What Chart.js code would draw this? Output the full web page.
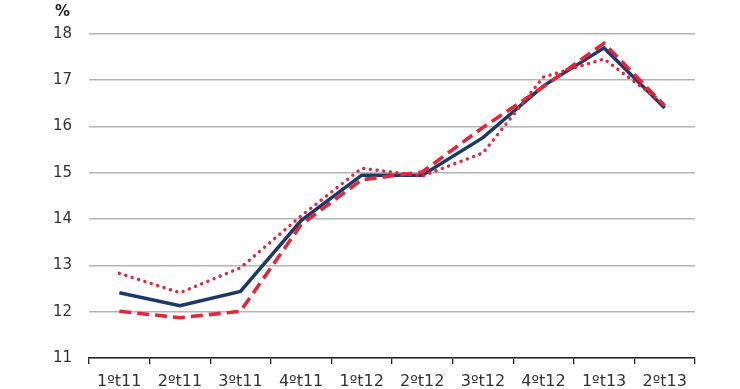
<!DOCTYPE html>
<html lang="pt">
<head>
  <meta charset="UTF-8">
  <title>Evolução trimestral</title>
  <script src="https://cdn.jsdelivr.net/npm/chart.js"></script>
  <style>
    html, body { margin: 0; padding: 0; background: #fff; }
    #wrap { width: 740px; height: 389px; position: relative; }
  </style>
</head>
<body>
  <div id="wrap"><canvas id="chart"></canvas></div>

  <script>
    // quarters on the x axis
    const quarters = ['1ºt11', '2ºt11', '3ºt11', '4ºt11', '1ºt12', '2ºt12', '3ºt12', '4ºt12', '1ºt13', '2ºt13'];

    // series (%)
    const solidSeries  = [12.41, 12.13, 12.44, 13.97, 14.95, 14.95, 15.76, 16.88, 17.70, 16.40];
    const dottedSeries = [12.83, 12.41, 12.95, 14.07, 15.10, 14.93, 15.43, 17.07, 17.46, 16.48];
    const dashedSeries = [12.01, 11.87, 12.01, 13.88, 14.85, 15.02, 15.98, 16.86, 17.80, 16.45];

    // y axis range
    const yMin = 11, yMax = 18, yStep = 1;

    const navy = '#1c3968';
    const red = '#e0283c';
    const fontFamily = '"DejaVu Sans", Verdana, sans-serif';

    // draws the "%" unit above the y axis
    const unitLabel = {
      id: 'unitLabel',
      afterDraw(chart) {
        const c = chart.ctx;
        c.save();
        c.font = 'bold 15px ' + fontFamily;
        c.fillStyle = '#222';
        c.textAlign = 'left';
        c.textBaseline = 'middle';
        c.fillText('%', 55, 12);
        c.restore();
      }
    };

    new Chart(document.getElementById('chart'), {
      type: 'line',
      data: {
        labels: quarters,
        datasets: [
          {
            label: 'dotted',
            data: dottedSeries,
            borderColor: red,
            borderWidth: 3.4,
            borderDash: [0.1, 6.6],
            borderCapStyle: 'round',
            pointRadius: 0,
            tension: 0,
            fill: false
          },
          {
            label: 'dashed',
            data: dashedSeries,
            borderColor: red,
            borderWidth: 3.6,
            borderDash: [12, 6],
            pointRadius: 0,
            tension: 0,
            fill: false
          },
          {
            label: 'solid',
            data: solidSeries,
            borderColor: navy,
            borderWidth: 3.5,
            pointRadius: 0,
            tension: 0,
            fill: false
          }
        ]
      },
      options: {
        responsive: true,
        maintainAspectRatio: false,
        animation: false,
        layout: { padding: { left: 0, right: 45, top: 34, bottom: 0 } },
        plugins: {
          legend: { display: false },
          tooltip: { enabled: false }
        },
        scales: {
          x: {
            offset: true,
            grid: {
              offset: true,
              drawOnChartArea: false,
              drawTicks: true,
              tickLength: 6,
              color: '#222',
              lineWidth: 1.3
            },
            border: { display: true, color: '#222', width: 1.5 },
            ticks: {
              color: '#333',
              padding: 8,
              maxRotation: 0,
              autoSkip: false,
              font: { family: fontFamily, size: 16 }
            },
            afterFit(scale) { scale.height = 31; }
          },
          y: {
            min: yMin,
            max: yMax,
            ticks: {
              stepSize: yStep,
              color: '#333',
              padding: 17,
              font: { family: fontFamily, size: 15 }
            },
            grid: {
              color: '#b4b4b4',
              lineWidth: 1.6,
              drawTicks: false
            },
            border: { display: false },
            afterFit(scale) { scale.width = 89; }
          }
        }
      },
      plugins: [unitLabel]
    });
  </script>
</body>
</html>
